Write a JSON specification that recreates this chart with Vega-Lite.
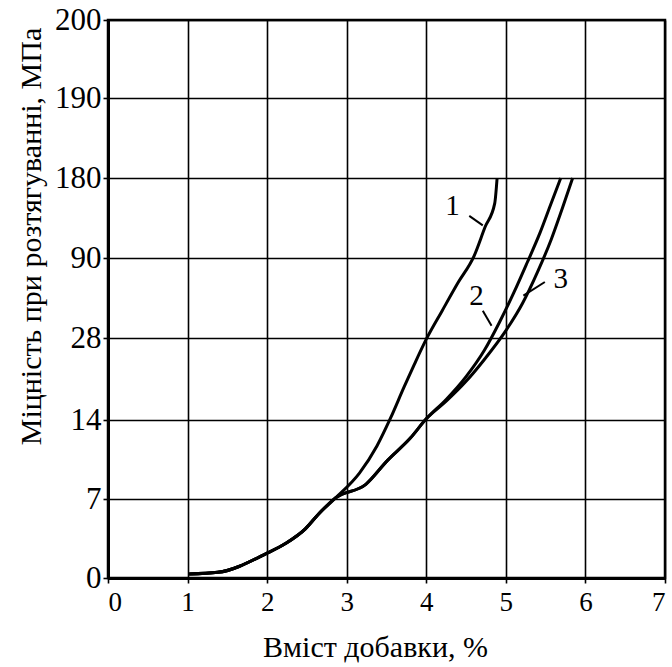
{
  "$schema": "https://vega.github.io/schema/vega-lite/v6.json",
  "width": 557,
  "height": 558,
  "autosize": "none",
  "padding": {"left": 108, "top": 20, "right": 7, "bottom": 89},
  "background": "white",
  "config": {
    "font": "Liberation Serif",
    "view": {"stroke": "black", "strokeWidth": 2.5}
  },
  "datasets": {
    "curves": [
      {"curve": "1", "x": 1.02, "y": 0.35}, {"curve": "1", "x": 1.38, "y": 0.5}, {"curve": "1", "x": 2.0, "y": 2.2},
      {"curve": "1", "x": 2.23, "y": 3.05}, {"curve": "1", "x": 2.48, "y": 4.35}, {"curve": "1", "x": 2.65, "y": 5.7},
      {"curve": "1", "x": 2.86, "y": 7.1}, {"curve": "1", "x": 3.16, "y": 9.3}, {"curve": "1", "x": 3.38, "y": 11.7},
      {"curve": "1", "x": 3.55, "y": 14.3}, {"curve": "1", "x": 3.72, "y": 19.6}, {"curve": "1", "x": 3.85, "y": 23.5},
      {"curve": "1", "x": 4.0, "y": 27.8}, {"curve": "1", "x": 4.2, "y": 49.2}, {"curve": "1", "x": 4.4, "y": 71},
      {"curve": "1", "x": 4.6, "y": 92.2}, {"curve": "1", "x": 4.74, "y": 125.1}, {"curve": "1", "x": 4.86, "y": 151.5},
      {"curve": "1", "x": 4.89, "y": 180},
      {"curve": "2", "x": 1.02, "y": 0.35}, {"curve": "2", "x": 1.38, "y": 0.5}, {"curve": "2", "x": 2.0, "y": 2.2},
      {"curve": "2", "x": 2.23, "y": 3.05}, {"curve": "2", "x": 2.48, "y": 4.35}, {"curve": "2", "x": 2.65, "y": 5.7},
      {"curve": "2", "x": 2.86, "y": 7.1}, {"curve": "2", "x": 3.24, "y": 8.3}, {"curve": "2", "x": 3.51, "y": 10.4},
      {"curve": "2", "x": 3.8, "y": 12.4}, {"curve": "2", "x": 4.0, "y": 14.2}, {"curve": "2", "x": 4.25, "y": 17.5},
      {"curve": "2", "x": 4.5, "y": 21.4}, {"curve": "2", "x": 4.73, "y": 25.9}, {"curve": "2", "x": 4.92, "y": 40.2},
      {"curve": "2", "x": 5.1, "y": 63.1}, {"curve": "2", "x": 5.27, "y": 86.7}, {"curve": "2", "x": 5.43, "y": 118.5},
      {"curve": "2", "x": 5.56, "y": 149.3}, {"curve": "2", "x": 5.69, "y": 180},
      {"curve": "3", "x": 1.02, "y": 0.35}, {"curve": "3", "x": 1.38, "y": 0.5}, {"curve": "3", "x": 2.0, "y": 2.2},
      {"curve": "3", "x": 2.23, "y": 3.05}, {"curve": "3", "x": 2.48, "y": 4.35}, {"curve": "3", "x": 2.65, "y": 5.7},
      {"curve": "3", "x": 2.86, "y": 7.1}, {"curve": "3", "x": 3.24, "y": 8.3}, {"curve": "3", "x": 3.51, "y": 10.4},
      {"curve": "3", "x": 3.8, "y": 12.4}, {"curve": "3", "x": 4.0, "y": 14.2}, {"curve": "3", "x": 4.25, "y": 17.2},
      {"curve": "3", "x": 4.5, "y": 20.6}, {"curve": "3", "x": 4.74, "y": 24.5}, {"curve": "3", "x": 5.0, "y": 33.7},
      {"curve": "3", "x": 5.21, "y": 54.9}, {"curve": "3", "x": 5.4, "y": 79.4}, {"curve": "3", "x": 5.57, "y": 110.9},
      {"curve": "3", "x": 5.71, "y": 146}, {"curve": "3", "x": 5.84, "y": 180}
    ],
    "leaders": [
      {"curve": "1", "x": 4.54, "y": 137.4, "x2": 4.71, "y2": 126.7},
      {"curve": "2", "x": 4.71, "y": 49.1, "x2": 4.82, "y2": 37.4},
      {"curve": "3", "x": 5.49, "y": 71.4, "x2": 5.22, "y2": 60.9}
    ],
    "labels": [
      {"label": "1", "x": 4.33, "y": 149},
      {"label": "2", "x": 4.63, "y": 60.9},
      {"label": "3", "x": 5.69, "y": 73.9}
    ]
  },
  "layer": [
    {
      "data": {"name": "curves"},
      "mark": {"type": "line", "color": "black", "strokeWidth": 3, "interpolate": "monotone", "clip": true},
      "encoding": {
        "x": {
          "field": "x", "type": "quantitative",
          "scale": {"domain": [0, 7], "nice": false, "zero": false},
          "axis": {
            "values": [0, 1, 2, 3, 4, 5, 6, 7], "format": "d", "grid": true,
            "domainColor": "black", "domainWidth": 3,
            "gridColor": "black", "gridWidth": 1.6, "gridOpacity": 1,
            "tickColor": "black", "tickWidth": 1.6, "tickSize": 5,
            "labelFont": "Liberation Serif", "labelFontSize": 27, "labelColor": "black", "labelPadding": 6,
            "title": "Вміст добавки, %", "titleFont": "Liberation Serif", "titleFontSize": 30, "titleFontWeight": "normal", "titleColor": "black",
            "titleX": 267, "titleY": 78, "titleBaseline": "alphabetic"
          }
        },
        "y": {
          "field": "y", "type": "quantitative",
          "scale": {"type": "linear", "domain": [0, 7, 14, 28, 90, 180, 190, 200], "range": [558, 479, 400, 318, 238, 158, 78, 0], "nice": false, "zero": false},
          "axis": {
            "values": [0, 7, 14, 28, 90, 180, 190, 200], "grid": true,
            "domainColor": "black", "domainWidth": 3,
            "gridColor": "black", "gridWidth": 1.6, "gridOpacity": 1,
            "tickColor": "black", "tickWidth": 1.6, "tickSize": 5,
            "labelFont": "Liberation Serif", "labelFontSize": 31, "labelColor": "black", "labelPadding": 2,
            "title": "Міцність при розтягуванні, МПа", "titleFont": "Liberation Serif", "titleFontSize": 30, "titleFontWeight": "normal", "titleColor": "black",
            "titleX": -68, "titleY": 216, "titleBaseline": "alphabetic"
          }
        },
        "detail": {"field": "curve"}
      }
    },
    {
      "data": {"name": "leaders"},
      "mark": {"type": "rule", "color": "black", "strokeWidth": 2},
      "encoding": {
        "x": {"field": "x", "type": "quantitative"},
        "y": {"field": "y", "type": "quantitative"},
        "x2": {"field": "x2"},
        "y2": {"field": "y2"}
      }
    },
    {
      "data": {"name": "labels"},
      "mark": {"type": "text", "font": "Liberation Serif", "fontSize": 29, "color": "black", "align": "center", "baseline": "middle"},
      "encoding": {
        "x": {"field": "x", "type": "quantitative"},
        "y": {"field": "y", "type": "quantitative"},
        "text": {"field": "label"}
      }
    }
  ]
}
